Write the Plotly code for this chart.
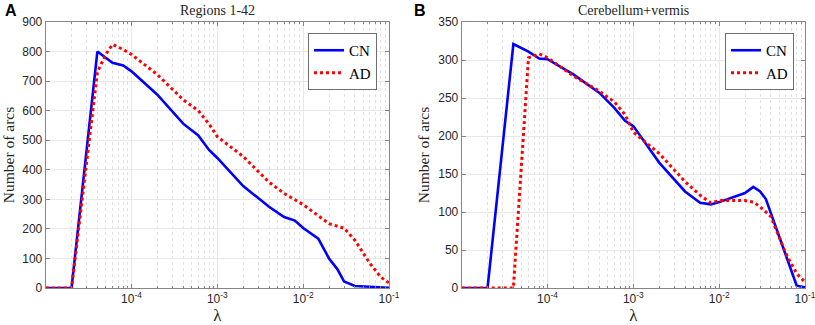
import plotly.graph_objects as go

# ---------------- data ----------------
lam_A_CN = [1e-5, 2e-5, 4e-5, 6e-5, 8e-5, 1e-4, 2e-4, 4e-4, 6e-4, 8e-4, 1e-3, 2e-3, 4e-3,
            6e-3, 8e-3, 1e-2, 1.5e-2, 2e-2, 2.5e-2, 3e-2, 4e-2, 6e-2, 8e-2, 1e-1]
cn_A = [0, 0, 800, 762, 753, 733, 654, 556, 516, 467, 440, 345, 275,
        240, 228, 203, 167, 100, 64, 22, 7, 5, 2, 1]

lam_A_AD = [1e-5, 2e-5, 4e-5, 5e-5, 6e-5, 8e-5, 1e-4, 2e-4, 4e-4, 6e-4, 8e-4, 1e-3, 2e-3,
            4e-3, 6e-3, 1e-2, 2e-2, 3e-2, 4e-2, 6e-2, 8e-2, 1e-1]
ad_A = [0, 0, 730, 790, 824, 807, 790, 722, 637, 600, 555, 512, 445,
        358, 320, 282, 218, 202, 162, 83, 37, 17]

lam_B_CN = [1e-5, 2e-5, 4e-5, 6e-5, 8e-5, 1e-4, 2e-4, 4e-4, 6e-4, 8e-4, 1e-3, 2e-3, 4e-3,
            6e-3, 8e-3, 1e-2, 2e-2, 2.5e-2, 3e-2, 3.5e-2, 8e-2, 1e-1]
cn_B = [0, 0, 321, 311, 302, 301, 281, 257, 237, 220, 213, 165, 127,
        112, 110, 113, 125, 133, 127, 117, 3, 1]

lam_B_AD = [1e-5, 2e-5, 3e-5, 4e-5, 6e-5, 8e-5, 1e-4, 2e-4, 4e-4, 6e-4, 8e-4, 1e-3, 2e-3,
            4e-3, 6e-3, 8e-3, 1e-2, 2e-2, 2.5e-2, 3e-2, 4e-2, 6e-2, 8e-2, 1e-1]
ad_B = [0, 0, 0, 0, 303, 308, 303, 279, 259, 245, 228, 205, 177,
        140, 122, 112, 115, 115, 113, 107, 94, 45, 19, 8]

x_tickvals = [1e-4, 1e-3, 1e-2, 1e-1]
x_ticktext = ["10<sup>-4</sup>", "10<sup>-3</sup>", "10<sup>-2</sup>", "10<sup>-1</sup>"]
yA_ticks = [0, 100, 200, 300, 400, 500, 600, 700, 800, 900]
yB_ticks = [0, 50, 100, 150, 200, 250, 300, 350]
titles = ["Regions 1-42", "Cerebellum+vermis"]
panel_labels = ["A", "B"]

minor_vals = [k * 10 ** e for e in range(-5, -1) for k in range(2, 10)]

SERIF = "Liberation Serif, Times New Roman, serif"
SANS = "Liberation Sans, Arial, sans-serif"
AXC = "#868686"
GRID = "#e8e8e8"

fig = go.Figure()

fig.add_trace(go.Scatter(x=lam_A_CN, y=cn_A, mode="lines", name="CN",
                         line=dict(color="#0000ff", width=2.6), xaxis="x", yaxis="y", legend="legend"))
fig.add_trace(go.Scatter(x=lam_A_AD, y=ad_A, mode="lines", name="AD",
                         line=dict(color="#ff0000", width=3, dash="dot"), xaxis="x", yaxis="y", legend="legend"))
fig.add_trace(go.Scatter(x=lam_B_CN, y=cn_B, mode="lines", name="CN",
                         line=dict(color="#0000ff", width=2.6), xaxis="x2", yaxis="y2", legend="legend2"))
fig.add_trace(go.Scatter(x=lam_B_AD, y=ad_B, mode="lines", name="AD",
                         line=dict(color="#ff0000", width=3, dash="dot"), xaxis="x2", yaxis="y2", legend="legend2"))

W, H = 815, 325
domA = [45.7 / W, 389 / W]
domB = [461.7 / W, 805 / W]
ydom = [1 - 288 / H, 1 - 22 / H]


def xaxis(dom, anchor):
    return dict(
        type="log", domain=dom, anchor=anchor, range=[-5, -1],
        tickmode="array", tickvals=x_tickvals, ticktext=x_ticktext,
        ticks="inside", ticklen=4, tickcolor=AXC,
        showline=True, linecolor=AXC, linewidth=1, mirror="ticks",
        showgrid=True, gridcolor=GRID, gridwidth=1,
        zeroline=False, automargin=False, ticklabeloverflow="allow",
        tickfont=dict(family=SANS, size=12, color="#262626"),
        title=dict(text="λ", font=dict(family=SERIF, size=17, color="#262626"), standoff=0),
        minor=dict(tickmode="array", tickvals=minor_vals, ticks="inside", ticklen=2,
                   tickcolor=AXC, showgrid=True, gridcolor="#e2e2e2", griddash="dot", gridwidth=1),
    )


def yaxis(anchor, ticks, rng):
    return dict(
        domain=ydom, anchor=anchor, range=rng,
        tickmode="array", tickvals=ticks,
        ticks="inside", ticklen=4, tickcolor=AXC,
        showline=True, linecolor=AXC, linewidth=1, mirror="ticks",
        showgrid=True, gridcolor=GRID, gridwidth=1,
        zeroline=False, automargin=False, ticklabeloverflow="allow",
        tickfont=dict(family=SANS, size=12, color="#262626"),
        title=dict(text="Number of arcs", font=dict(family=SERIF, size=15.5, color="#262626"), standoff=4),
    )


def legend(xr):
    return dict(
        x=xr / W, y=1 - 33 / H, xanchor="right", yanchor="top",
        bgcolor="white", bordercolor="#6e6e6e", borderwidth=1,
        font=dict(family=SERIF, size=15, color="#000000"),
        itemwidth=30, tracegroupgap=0,
    )


fig.update_layout(
    width=W, height=H,
    margin=dict(l=0, r=0, t=0, b=0),
    paper_bgcolor="white", plot_bgcolor="white",
    xaxis=xaxis(domA, "y"),
    yaxis=yaxis("x", yA_ticks, [0, 900]),
    xaxis2=xaxis(domB, "y2"),
    yaxis2=yaxis("x2", yB_ticks, [0, 350]),
    legend=legend(377),
    legend2=legend(794),
    showlegend=True,
    annotations=[
        dict(text=titles[0], x=(domA[0] + domA[1]) / 2, y=1 - 10 / H, xref="paper", yref="paper",
             xanchor="center", yanchor="middle", showarrow=False,
             font=dict(family=SERIF, size=14, color="#262626")),
        dict(text=titles[1], x=(domB[0] + domB[1]) / 2, y=1 - 10 / H, xref="paper", yref="paper",
             xanchor="center", yanchor="middle", showarrow=False,
             font=dict(family=SERIF, size=14, color="#262626")),
        dict(text="<b>" + panel_labels[0] + "</b>", x=3 / W, y=1 - 10 / H, xref="paper", yref="paper",
             xanchor="left", yanchor="middle", showarrow=False,
             font=dict(family=SANS, size=16, color="#000000")),
        dict(text="<b>" + panel_labels[1] + "</b>", x=412 / W, y=1 - 10 / H, xref="paper", yref="paper",
             xanchor="left", yanchor="middle", showarrow=False,
             font=dict(family=SANS, size=16, color="#000000")),
    ],
)

fig.write_html("out.html", config={"displayModeBar": False},
               post_script="document.body.style.margin='0';document.body.style.overflow='hidden';")
